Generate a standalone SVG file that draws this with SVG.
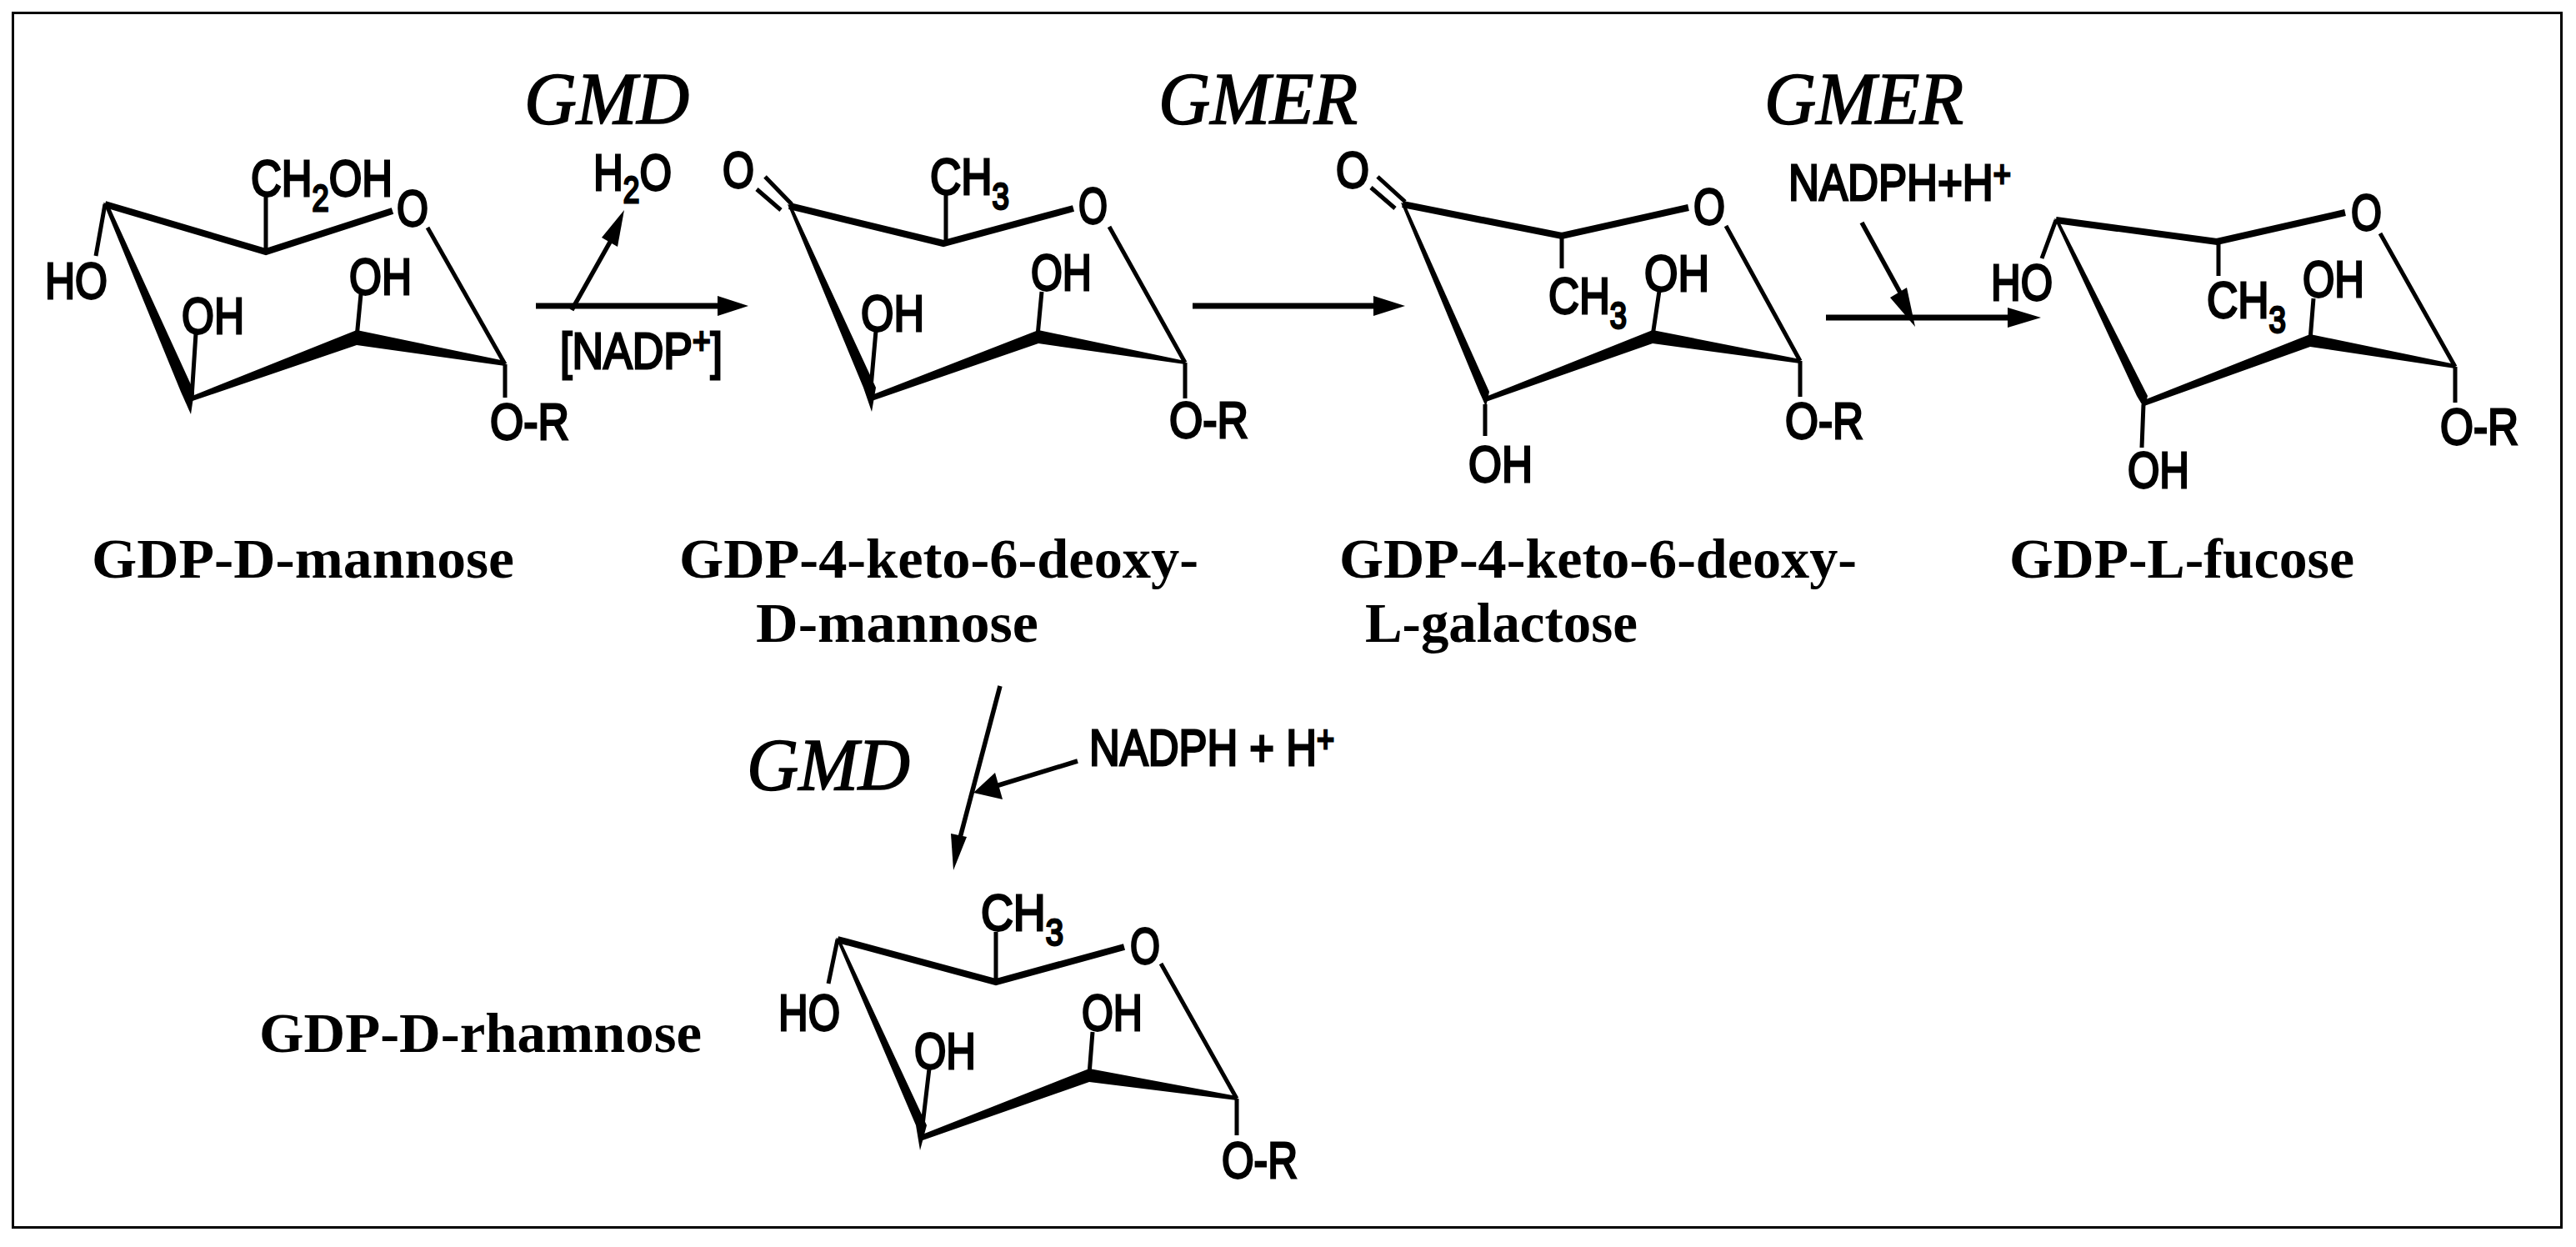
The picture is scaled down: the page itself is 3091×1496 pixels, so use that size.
<svg xmlns="http://www.w3.org/2000/svg" width="3091" height="1496" viewBox="0 0 3091 1496">
<style>
.s{font-family:"Liberation Sans",Arial,sans-serif;font-size:62px;fill:#000;stroke:#000;stroke-width:2.8px;}
.sub{font-size:44px;}
.l{font-family:"Liberation Serif","Times New Roman",serif;font-size:68px;font-weight:700;fill:#000;}
.e{font-family:"Liberation Serif","Times New Roman",serif;font-size:88px;font-style:italic;fill:#000;stroke:#000;stroke-width:1.6px;}
.b{fill:none;stroke:#000;stroke-width:5;}
.t{fill:none;stroke:#000;stroke-width:8;stroke-linejoin:miter;}
.w{fill:#000;stroke:none;}
.a{fill:none;stroke:#000;stroke-width:7;}
.a2{fill:none;stroke:#000;stroke-width:5.5;}
</style>
<rect width="3091" height="1496" fill="#fff"/>
<rect x="15.5" y="15.5" width="3058" height="1457" fill="none" stroke="#000" stroke-width="3"/>

<g id="gdp-d-mannose">
<polyline class="t" points="126,245 319,302 471,253"/>
<polygon class="w" points="124,243 130,245 233,470 229,497 217,470"/>
<polygon class="w" points="228,476 428,396 606,433 606,439 428,414 231,481"/>
<line class="b" x1="513" y1="273" x2="606" y2="437"/>
<path class="b" d="M126,245L115,307M319,302V235M428,405L433,353M230,477L235,400M606,437V477"/>
<text class="s" x="54" y="358" textLength="75" lengthAdjust="spacingAndGlyphs">HO</text>
<text class="s" x="301" y="235" textLength="170" lengthAdjust="spacingAndGlyphs">CH<tspan class="sub" dy="18">2</tspan><tspan dy="-18">OH</tspan></text>
<text class="s" x="476" y="271" textLength="38" lengthAdjust="spacingAndGlyphs">O</text>
<text class="s" x="419" y="353" textLength="75" lengthAdjust="spacingAndGlyphs">OH</text>
<text class="s" x="218" y="400" textLength="75" lengthAdjust="spacingAndGlyphs">OH</text>
<text class="s" x="588" y="527" textLength="95" lengthAdjust="spacingAndGlyphs">O-R</text>
<text class="l" x="110" y="693" textLength="507" lengthAdjust="spacingAndGlyphs">GDP-D-mannose</text>
</g>

<g id="gdp-4-keto-6-deoxy-d-mannose">
<polyline class="t" points="947,247 1132,292 1288,250"/>
<polygon class="w" points="945,245 950,247 1051,465 1046,494 1036,465"/>
<polygon class="w" points="1043,475 1246,396 1422,433 1422,437 1246,412 1046,481"/>
<path class="b" d="M918,212L950,245M908,227L937,252M1331,272L1422,435M1135,292V233M1245,403L1250,350M1045,465L1051,397M1422,435V478"/>
<text class="s" x="867" y="225" textLength="38" lengthAdjust="spacingAndGlyphs">O</text>
<text class="s" x="1116" y="233" textLength="95" lengthAdjust="spacingAndGlyphs">CH<tspan class="sub" dy="18">3</tspan></text>
<text class="s" x="1294" y="268" textLength="35" lengthAdjust="spacingAndGlyphs">O</text>
<text class="s" x="1237" y="348" textLength="73" lengthAdjust="spacingAndGlyphs">OH</text>
<text class="s" x="1033" y="397" textLength="76" lengthAdjust="spacingAndGlyphs">OH</text>
<text class="s" x="1403" y="525" textLength="95" lengthAdjust="spacingAndGlyphs">O-R</text>
<text class="l" x="815" y="693" textLength="623" lengthAdjust="spacingAndGlyphs">GDP-4-keto-6-deoxy-</text>
<text class="l" x="907" y="770" textLength="339" lengthAdjust="spacingAndGlyphs">D-mannose</text>
</g>

<g id="gdp-4-keto-6-deoxy-l-galactose">
<polyline class="t" points="1683,245 1874,283 2026,249"/>
<polygon class="w" points="1681,243 1686,245 1787,470 1783,488 1775,470"/>
<polygon class="w" points="1780,477 1983,396 2160,431 2160,436 1983,412 1783,482"/>
<path class="b" d="M1653,212L1686,242M1645,225L1674,250M2071,271L2160,433M1874,283V322M1983,403L1991,349M1782,485V523M2160,433V476"/>
<text class="s" x="1603" y="225" textLength="40" lengthAdjust="spacingAndGlyphs">O</text>
<text class="s" x="1858" y="376" textLength="94" lengthAdjust="spacingAndGlyphs">CH<tspan class="sub" dy="18">3</tspan></text>
<text class="s" x="2032" y="269" textLength="38" lengthAdjust="spacingAndGlyphs">O</text>
<text class="s" x="1973" y="349" textLength="78" lengthAdjust="spacingAndGlyphs">OH</text>
<text class="s" x="1762" y="578" textLength="77" lengthAdjust="spacingAndGlyphs">OH</text>
<text class="s" x="2142" y="526" textLength="94" lengthAdjust="spacingAndGlyphs">O-R</text>
<text class="l" x="1607" y="693" textLength="621" lengthAdjust="spacingAndGlyphs">GDP-4-keto-6-deoxy-</text>
<text class="l" x="1638" y="770" textLength="327" lengthAdjust="spacingAndGlyphs">L-galactose</text>
</g>

<g id="gdp-l-fucose">
<polyline class="t" points="2467,264 2660,290 2814,255"/>
<polygon class="w" points="2465,262 2470,264 2577,475 2573,490 2564,475"/>
<polygon class="w" points="2570,481 2772,401 2946,437 2946,442 2772,416 2573,487"/>
<path class="b" d="M2467,264L2450,310M2856,280L2946,440M2662,290V331M2772,408L2776,358M2572,485L2570,537M2946,440V483"/>
<text class="s" x="2389" y="360" textLength="74" lengthAdjust="spacingAndGlyphs">HO</text>
<text class="s" x="2648" y="381" textLength="95" lengthAdjust="spacingAndGlyphs">CH<tspan class="sub" dy="18">3</tspan></text>
<text class="s" x="2821" y="276" textLength="37" lengthAdjust="spacingAndGlyphs">O</text>
<text class="s" x="2763" y="356" textLength="74" lengthAdjust="spacingAndGlyphs">OH</text>
<text class="s" x="2553" y="585" textLength="74" lengthAdjust="spacingAndGlyphs">OH</text>
<text class="s" x="2928" y="533" textLength="94" lengthAdjust="spacingAndGlyphs">O-R</text>
<text class="l" x="2411" y="693" textLength="414" lengthAdjust="spacingAndGlyphs">GDP-L-fucose</text>
</g>

<g id="gdp-d-rhamnose">
<polyline class="t" points="1005,1127 1195,1178 1349,1136"/>
<polygon class="w" points="1003,1125 1008,1127 1112,1350 1104,1380 1099,1350"/>
<polygon class="w" points="1104,1362 1307,1282 1484,1315 1484,1320 1307,1298 1107,1368"/>
<path class="b" d="M1005,1127L994,1180M1393,1156L1484,1318M1195,1178V1118M1307,1289L1311,1238M1107,1350L1115,1282M1484,1318V1362"/>
<text class="s" x="934" y="1236" textLength="74" lengthAdjust="spacingAndGlyphs">HO</text>
<text class="s" x="1177" y="1116" textLength="99" lengthAdjust="spacingAndGlyphs">CH<tspan class="sub" dy="18">3</tspan></text>
<text class="s" x="1356" y="1156" textLength="36" lengthAdjust="spacingAndGlyphs">O</text>
<text class="s" x="1298" y="1236" textLength="73" lengthAdjust="spacingAndGlyphs">OH</text>
<text class="s" x="1097" y="1282" textLength="74" lengthAdjust="spacingAndGlyphs">OH</text>
<text class="s" x="1466" y="1413" textLength="91" lengthAdjust="spacingAndGlyphs">O-R</text>
<text class="l" x="311" y="1262" textLength="531" lengthAdjust="spacingAndGlyphs">GDP-D-rhamnose</text>
</g>

<g id="connectors">
<line class="a" x1="643" y1="367" x2="865" y2="367"/>
<polygon class="w" points="861,355 898,367 861,379"/>
<line class="a2" x1="686" y1="372" x2="735" y2="285"/>
<polygon class="w" points="749,252 741,296 722,285"/>
<line class="a" x1="1431" y1="367" x2="1652" y2="367"/>
<polygon class="w" points="1648,355 1686,367 1648,379"/>
<line class="a" x1="2191" y1="381" x2="2412" y2="381"/>
<polygon class="w" points="2409,369 2449,381 2409,393"/>
<line class="a2" x1="2234" y1="267" x2="2285" y2="360"/>
<polygon class="w" points="2298,392 2268,357 2288,345"/>
<line class="a2" x1="1200" y1="823" x2="1152" y2="1005"/>
<polygon class="w" points="1144,1044 1141,1000 1160,1004"/>
<line class="a2" x1="1293" y1="913" x2="1195" y2="943"/>
<polygon class="w" points="1168,951 1194,927 1203,959"/>
</g>

<g id="enzymes">
<text class="e" x="629" y="148" textLength="198" lengthAdjust="spacingAndGlyphs">GMD</text>
<text class="e" x="1390" y="148" textLength="239" lengthAdjust="spacingAndGlyphs">GMER</text>
<text class="e" x="2117" y="148" textLength="239" lengthAdjust="spacingAndGlyphs">GMER</text>
<text class="e" x="896" y="947" textLength="196" lengthAdjust="spacingAndGlyphs">GMD</text>
</g>

<g id="cofactors">
<text class="s" x="712" y="228" textLength="94" lengthAdjust="spacingAndGlyphs">H<tspan class="sub" dy="15">2</tspan><tspan dy="-15">O</tspan></text>
<text class="s" x="672" y="442" textLength="195" lengthAdjust="spacingAndGlyphs">[NADP<tspan class="sub" dy="-18">+</tspan><tspan dy="18">]</tspan></text>
<text class="s" x="2146" y="240" textLength="267" lengthAdjust="spacingAndGlyphs">NADPH+H<tspan class="sub" dy="-16">+</tspan></text>
<text class="s" x="1307" y="918" textLength="294" lengthAdjust="spacingAndGlyphs">NADPH + H<tspan class="sub" dy="-16">+</tspan></text>
</g>
</svg>
